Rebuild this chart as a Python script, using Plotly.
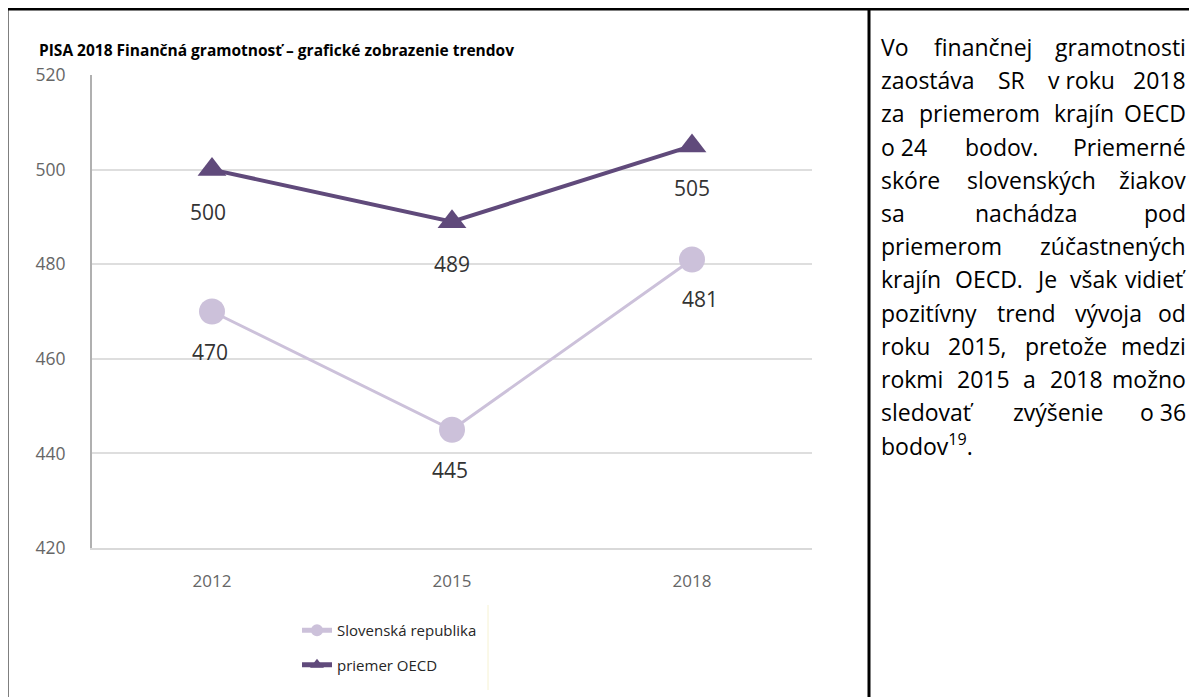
import plotly.graph_objects as go

# data
years = ["2012", "2015", "2018"]
sr_scores = [470, 445, 481]
oecd_scores = [500, 489, 505]
y_ticks = [420, 440, 460, 480, 500, 520]

title_text = "PISA 2018 Finančná gramotnosť – grafické zobrazenie trendov"
sr_name = "Slovenská republika"
oecd_name = "priemer OECD"

side_lines = [
    "Vo finančnej gramotnosti",
    "zaostáva SR v\u00a0roku 2018",
    "za priemerom krajín OECD",
    "o\u00a024 bodov. Priemerné",
    "skóre slovenských žiakov",
    "sa nachádza pod",
    "priemerom zúčastnených",
    "krajín OECD. Je však vidieť",
    "pozitívny trend vývoja od",
    "roku 2015, pretože medzi",
    "rokmi 2015 a 2018 možno",
    "sledovať zvýšenie o\u00a036",
]
side_last = "bodov<sup>19</sup>."

# page body has an 8px margin, so the figure is 8px smaller each way
OFF = 8
W, H = 1197 - OFF, 697 - OFF
L, R, T, B = 92, 812, 75, 548   # plot area in reference pixels


def px(x):
    return (x - L) / (R - L)


def py(y):
    return (B - y) / (B - T)


# rough Open Sans advance widths (em) to justify the side text
cw = {" ": 0.26, "\u00a0": 0.26, "a": 0.556, "b": 0.613, "c": 0.476, "d": 0.613, "e": 0.561,
      "f": 0.339, "g": 0.548, "h": 0.614, "i": 0.253, "j": 0.253, "k": 0.525, "l": 0.253,
      "m": 0.93, "n": 0.614, "o": 0.604, "p": 0.613, "r": 0.408, "s": 0.477, "t": 0.353,
      "u": 0.614, "v": 0.501, "w": 0.778, "y": 0.502, "z": 0.477, ".": 0.266, ",": 0.245,
      "O": 0.78, "E": 0.55, "C": 0.634, "D": 0.729, "S": 0.55, "R": 0.63, "V": 0.578,
      "P": 0.62, "J": 0.286, "ť": 0.40}
base = {"á": "a", "í": "i", "č": "c", "ž": "z", "ý": "y", "ú": "u", "é": "e", "š": "s", "ó": "o"}


def text_w(s, fs):
    tot = 0
    for ch in s:
        ch = base.get(ch, ch)
        if ch.isdigit():
            tot += 0.572
        else:
            tot += cw.get(ch, 0.56)
    return tot * fs


fig = go.Figure()
fig.add_trace(go.Scatter(
    x=years, y=sr_scores, name=sr_name, mode="lines+markers", legendgroup="a",
    line=dict(color="#ccc1da", width=3),
    marker=dict(symbol="circle", size=26, color="#ccc1da"),
))
fig.add_trace(go.Scatter(
    x=years, y=oecd_scores, name=oecd_name, mode="lines+markers", legendgroup="b",
    line=dict(color="#604a7b", width=4),
    marker=dict(symbol="triangle-up", size=25, color="#604a7b"),
))

annos = []
for i, v in enumerate(sr_scores):
    annos.append(dict(x=i, y=v, xref="x", yref="y", text=str(v), showarrow=False,
                      yshift=-40, xshift=8 if i == 2 else -2,
                      font=dict(size=21, color="#333333")))
for i, v in enumerate(oecd_scores):
    annos.append(dict(x=i, y=v, xref="x", yref="y", text=str(v), showarrow=False,
                      yshift=-42, xshift=-4 if i == 0 else 0,
                      font=dict(size=21, color="#333333")))

annos.append(dict(x=px(37), y=py(50), xref="paper", yref="paper", text="<b>" + title_text + "</b>",
                  showarrow=False, xanchor="left", yanchor="middle",
                  font=dict(size=15.5, color="#000000", family="Open Sans")))

# justified paragraph on the right
fs = 23
left_x, right_x = 879, 1188
for i, line in enumerate(side_lines):
    yc = 47 + 33.2 * i
    words = line.split(" ")
    widths = [text_w(w, fs) for w in words]
    gap = (right_x - left_x - sum(widths)) / (len(words) - 1)
    x = left_x
    for j, w in enumerate(words):
        if j == len(words) - 1:
            annos.append(dict(x=px(right_x), y=py(yc), xref="paper", yref="paper", text=w,
                              showarrow=False, xanchor="right", yanchor="middle",
                              font=dict(size=fs, color="#000000")))
        else:
            annos.append(dict(x=px(x), y=py(yc), xref="paper", yref="paper", text=w,
                              showarrow=False, xanchor="left", yanchor="middle",
                              font=dict(size=fs, color="#000000")))
        x += widths[j] + gap
annos.append(dict(x=px(left_x), y=py(47 + 33.2 * len(side_lines)), xref="paper", yref="paper",
                  text=side_last, showarrow=False, xanchor="left", yanchor="middle",
                  font=dict(size=fs, color="#000000")))

shapes = [
    dict(type="line", xref="paper", yref="paper", x0=px(7), x1=px(7), y0=py(8), y1=py(705),
         line=dict(color="black", width=3)),
    dict(type="line", xref="paper", yref="paper", x0=px(6), x1=px(1205), y0=py(9), y1=py(9),
         line=dict(color="black", width=3)),
    dict(type="line", xref="paper", yref="paper", x0=px(869), x1=px(869), y0=py(8), y1=py(705),
         line=dict(color="black", width=3)),
    dict(type="line", xref="paper", yref="paper", x0=px(488), x1=px(488), y0=py(605), y1=py(690),
         line=dict(color="#f6f2d2", width=1)),
]

fig.update_layout(
    width=W, height=H,
    margin=dict(l=L - OFF, r=1197 - R, t=T - OFF, b=697 - B),
    paper_bgcolor="white", plot_bgcolor="white",
    font=dict(family="Open Sans", color="#404040"),
    showlegend=True,
    legend=dict(x=px(297), y=py(614), xanchor="left", yanchor="top",
                font=dict(size=15, color="#262626"), traceorder="grouped",
                tracegroupgap=12, bgcolor="rgba(0,0,0,0)", itemwidth=30,
                itemsizing="constant"),
    xaxis=dict(type="category", range=[-0.5, 2.5], showgrid=False, showline=True,
               linecolor="#d9d9d9", linewidth=2, ticks="", ticklabelstandoff=17,
               tickfont=dict(size=17, color="#666666")),
    yaxis=dict(range=[420, 520], tickvals=y_ticks, showgrid=True, gridcolor="#dedede",
               gridwidth=2, zeroline=False, showline=True, linecolor="#b0b0b0", linewidth=2,
               ticks="", ticklabelstandoff=21, tickfont=dict(size=17.5, color="#666666")),
    annotations=annos,
    shapes=shapes,
)

fig.write_html("out.html")
